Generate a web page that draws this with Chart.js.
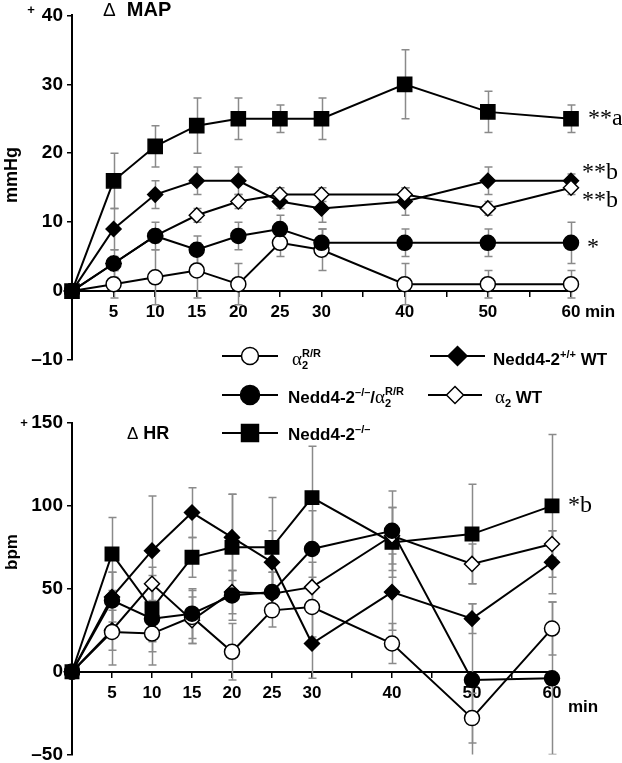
<!DOCTYPE html>
<html>
<head>
<meta charset="utf-8">
<script src="https://cdn.jsdelivr.net/npm/chart.js@4/dist/chart.umd.min.js"></script>
<style>
  html, body { margin: 0; padding: 0; background: #fff; overflow: hidden; }
  #wrap { position: relative; width: 622px; height: 763px; }
  canvas { position: absolute; left: 0; }
  #mapChart { top: 0; }
  #hrChart { top: 400px; }
</style>
</head>
<body>
<div id="wrap">
  <canvas id="mapChart" width="622" height="450"></canvas>
  <canvas id="hrChart" width="622" height="370"></canvas>
</div>
<script>
// time points (min)
const times = [0, 5, 10, 15, 20, 25, 30, 40, 50, 60];
const xTickHidden = [0, 35, 45, 55];

// delta MAP (mmHg) and error bars
const mapA2RR = [0, 1, 2, 3, 1, 7, 6, 1, 1, 1];
const mapA2RRErr = [0, 2, 4, 4, 3, 2, 3, 3, 2, 2];
const mapKoA2RR = [0, 4, 8, 6, 8, 9, 7, 7, 7, 7];
const mapKoA2RRErr = [0, 2, 2, 2, 2, 2, 2, 2, 2, 3];
const mapKo = [0, 16, 21, 24, 25, 25, 25, 30, 26, 25];
const mapKoErr = [0, 4, 3, 4, 3, 2, 3, 5, 3, 2];
const mapNeddWt = [0, 9, 14, 16, 16, 13, 12, 13, 16, 16];
const mapNeddWtErr = [0, 3, 2, 2, 2, 1, 2, 2, 2, 1];
const mapA2Wt = [0, 4, 8, 11, 13, 14, 14, 14, 12, 15];
const mapA2WtErr = [0, 1, 1, 1, 1, 1, 1, 1, 1, 1];

// delta HR (bpm) and error bars
const hrA2RR = [0, 24, 23, 33, 12, 37, 39, 17, -28, 26];
const hrA2RRErr = [0, 20, 19, 16, 17, 10, 18, 12, 15, 16];
const hrKoA2RR = [0, 43, 32, 35, 46, 48, 74, 85, -5, -4];
const hrKoA2RRErr = [0, 17, 20, 15, 15, 12, 23, 24, 46, 46];
const hrKo = [0, 71, 38, 69, 75, 75, 105, 78, 83, 100];
const hrKoErr = [0, 22, 20, 12, 32, 30, 31, 21, 30, 43];
const hrNeddWt = [0, 45, 73, 96, 81, 66, 17, 48, 32, 66];
const hrNeddWtErr = [0, 15, 33, 15, 26, 19, 21, 23, 9, 19];
const hrA2Wt = [0, 25, 53, 31, 48, 47, 51, 82, 65, 77];
const hrA2WtErr = [0, 12, 10, 14, 13, 13, 15, 17, 12, 8];

const SANS = '"Liberation Sans", Arial, sans-serif';
const SERIF = '"Liberation Serif", "Times New Roman", serif';

function pts(vals) {
  return times.map((t, i) => ({ x: t, y: vals[i] }));
}

function series(label, vals, err, style, r, fill) {
  return {
    label: label,
    data: pts(vals),
    err: err,
    borderColor: '#000',
    borderWidth: 2,
    pointStyle: style,
    pointRadius: r,
    pointHoverRadius: r,
    pointBackgroundColor: fill,
    pointBorderColor: '#000',
    pointBorderWidth: 1.5,
    tension: 0,
    fill: false,
    clip: false
  };
}

const errorBars = {
  id: 'errorBars',
  beforeDatasetsDraw(chart) {
    const { ctx, chartArea, scales: { x, y } } = chart;
    ctx.save();
    ctx.beginPath();
    ctx.rect(chartArea.left - 10, chartArea.top, chartArea.right - chartArea.left + 20, chartArea.bottom - chartArea.top);
    ctx.clip();
    ctx.strokeStyle = '#8a8a8a';
    ctx.lineWidth = 1.5;
    chart.data.datasets.forEach(ds => {
      ds.data.forEach((p, i) => {
        const e = ds.err[i];
        if (!e) return;
        const px = Math.round(x.getPixelForValue(p.x)) + 0.5;
        const top = y.getPixelForValue(p.y + e);
        const bot = y.getPixelForValue(p.y - e);
        ctx.beginPath();
        ctx.moveTo(px, top); ctx.lineTo(px, bot);
        ctx.moveTo(px - 4, top); ctx.lineTo(px + 4, top);
        ctx.moveTo(px - 4, bot); ctx.lineTo(px + 4, bot);
        ctx.stroke();
      });
    });
    ctx.restore();
  }
};

function scalesFor(yMin, yMax, yStep) {
  const tickFont = { family: SANS, size: 17, weight: 'bold' };
  return {
    x: {
      type: 'linear', min: 0, max: 60,
      position: { y: 0 },
      ticks: {
        stepSize: 5, autoSkip: false, maxRotation: 0, padding: 6, color: '#000',
        font: tickFont,
        callback: v => xTickHidden.includes(v) ? '' : String(v)
      },
      grid: { drawOnChartArea: false, tickLength: 5, color: '#000', lineWidth: 1.5 },
      border: { color: '#000', width: 2 }
    },
    y: {
      min: yMin, max: yMax,
      afterFit: s => { s.width = 72; },
      ticks: {
        stepSize: yStep, padding: 4, color: '#000',
        font: { family: SANS, size: 19, weight: 'bold' },
        callback: v => v < 0 ? '\u2013' + (-v) : String(v)
      },
      grid: { drawOnChartArea: false, tickLength: 5, color: '#000', lineWidth: 1.5 },
      border: { color: '#000', width: 2 }
    }
  };
}

function drawMarker(ctx, style, x, y, r, fill) {
  ctx.beginPath();
  if (style === 'circle') {
    ctx.arc(x, y, r, 0, Math.PI * 2);
  } else if (style === 'rect') {
    const s = r * Math.SQRT1_2;
    ctx.rect(x - s, y - s, 2 * s, 2 * s);
  } else {
    ctx.moveTo(x, y - r); ctx.lineTo(x + r, y); ctx.lineTo(x, y + r); ctx.lineTo(x - r, y);
    ctx.closePath();
  }
  ctx.fillStyle = fill;
  ctx.fill();
  ctx.lineWidth = 1.5;
  ctx.strokeStyle = '#000';
  ctx.stroke();
}

// text made of runs: {t, f, dy, stay}
function drawRuns(ctx, x, y, parts) {
  ctx.fillStyle = '#000';
  ctx.textAlign = 'left';
  ctx.textBaseline = 'alphabetic';
  parts.forEach(p => {
    ctx.font = p.f;
    ctx.fillText(p.t, x, y + (p.dy || 0));
    if (!p.stay) x += ctx.measureText(p.t).width;
  });
}

const B17 = 'bold 17px ' + SANS;
const SUP = 'bold 11px ' + SANS;
const ALPHA = '19px ' + SERIF;

const legendItems = [
  { x0: 222, x1: 278, y: 356, style: 'circle', r: 8.5, fill: '#fff', tx: 292, ty: 365,
    parts: [{ t: '\u03b1', f: ALPHA }, { t: '2', f: SUP, dy: 4, stay: true }, { t: 'R/R', f: SUP, dy: -8 }] },
  { x0: 430, x1: 485, y: 356, style: 'rectRot', r: 9.5, fill: '#000', tx: 493, ty: 365,
    parts: [{ t: 'Nedd4-2', f: B17 }, { t: '+/+', f: SUP, dy: -7 }, { t: ' WT', f: B17 }] },
  { x0: 222, x1: 278, y: 395, style: 'circle', r: 9.5, fill: '#000', tx: 288, ty: 403,
    parts: [{ t: 'Nedd4-2', f: B17 }, { t: '\u2013/\u2013', f: SUP, dy: -7 }, { t: '/', f: B17 },
            { t: '\u03b1', f: ALPHA }, { t: '2', f: SUP, dy: 4, stay: true }, { t: 'R/R', f: SUP, dy: -8 }] },
  { x0: 428, x1: 482, y: 395, style: 'rectRot', r: 8.5, fill: '#fff', tx: 495, ty: 403,
    parts: [{ t: '\u03b1', f: ALPHA }, { t: '2', f: SUP, dy: 4 }, { t: ' WT', f: B17 }] },
  { x0: 222, x1: 278, y: 433, style: 'rect', r: 12, fill: '#000', tx: 288, ty: 440,
    parts: [{ t: 'Nedd4-2', f: B17 }, { t: '\u2013/\u2013', f: SUP, dy: -7 }] }
];

const mapDecor = {
  id: 'mapDecor',
  afterDraw(chart) {
    const ctx = chart.ctx;
    ctx.save();
    ctx.fillStyle = '#000';
    // small plus of +40
    ctx.font = 'bold 13px ' + SANS;
    ctx.textAlign = 'center';
    ctx.fillText('+', 31, 14);
    // axis title
    ctx.save();
    ctx.translate(17, 175);
    ctx.rotate(-Math.PI / 2);
    ctx.font = 'bold 18px ' + SANS;
    ctx.textAlign = 'center';
    ctx.fillText('mmHg', 0, 0);
    ctx.restore();
    // panel title
    drawRuns(ctx, 103, 16, [{ t: '\u0394', f: '19px ' + SANS }, { t: '  MAP', f: 'bold 20px ' + SANS }]);
    // min
    drawRuns(ctx, 585, 317, [{ t: 'min', f: B17 }]);
    // significance marks
    const sig = 'normal 24px ' + SERIF;
    drawRuns(ctx, 588, 125, [{ t: '**a', f: sig }]);
    drawRuns(ctx, 582, 179, [{ t: '**b', f: sig }]);
    drawRuns(ctx, 582, 207, [{ t: '**b', f: sig }]);
    drawRuns(ctx, 587, 254, [{ t: '*', f: sig }]);
    // legend
    legendItems.forEach(it => {
      ctx.beginPath();
      ctx.moveTo(it.x0, it.y); ctx.lineTo(it.x1, it.y);
      ctx.lineWidth = 2; ctx.strokeStyle = '#000';
      ctx.stroke();
      drawMarker(ctx, it.style, (it.x0 + it.x1) / 2, it.y, it.r, it.fill);
      drawRuns(ctx, it.tx, it.ty, it.parts);
    });
    ctx.restore();
  }
};

const hrDecor = {
  id: 'hrDecor',
  afterDraw(chart) {
    const ctx = chart.ctx;
    ctx.save();
    ctx.fillStyle = '#000';
    ctx.font = 'bold 13px ' + SANS;
    ctx.textAlign = 'center';
    ctx.fillText('+', 24, 27);
    ctx.save();
    ctx.translate(17, 152);
    ctx.rotate(-Math.PI / 2);
    ctx.font = 'bold 17px ' + SANS;
    ctx.textAlign = 'center';
    ctx.fillText('bpm', 0, 0);
    ctx.restore();
    drawRuns(ctx, 127, 39, [{ t: '\u0394', f: '17px ' + SANS }, { t: ' HR', f: 'bold 18px ' + SANS }]);
    drawRuns(ctx, 568, 312, [{ t: 'min', f: B17 }]);
    drawRuns(ctx, 568, 112, [{ t: '*b', f: 'normal 24px ' + SERIF }]);
    ctx.restore();
  }
};

function baseOptions(yMin, yMax, yStep, pad) {
  return {
    responsive: false,
    animation: false,
    events: [],
    layout: { padding: pad },
    plugins: { legend: { display: false }, tooltip: { enabled: false } },
    scales: scalesFor(yMin, yMax, yStep)
  };
}

new Chart(document.getElementById('mapChart'), {
  type: 'line',
  data: {
    datasets: [
      series('Nedd4-2\u2013/\u2013/\u03b12R/R', mapKoA2RR, mapKoA2RRErr, 'circle', 7.5, '#000'),
      series('\u03b12R/R', mapA2RR, mapA2RRErr, 'circle', 7.5, '#fff'),
      series('\u03b12 WT', mapA2Wt, mapA2WtErr, 'rectRot', 7.5, '#fff'),
      series('Nedd4-2+/+ WT', mapNeddWt, mapNeddWtErr, 'rectRot', 7.5, '#000'),
      series('Nedd4-2\u2013/\u2013', mapKo, mapKoErr, 'rect', 10, '#000')
    ]
  },
  options: baseOptions(-10, 40, 10, { left: 0, right: 51, top: 10, bottom: 90 }),
  plugins: [errorBars, mapDecor]
});

new Chart(document.getElementById('hrChart'), {
  type: 'line',
  data: {
    datasets: [
      series('Nedd4-2\u2013/\u2013/\u03b12R/R', hrKoA2RR, hrKoA2RRErr, 'circle', 7.5, '#000'),
      series('\u03b12R/R', hrA2RR, hrA2RRErr, 'circle', 7.5, '#fff'),
      series('\u03b12 WT', hrA2Wt, hrA2WtErr, 'rectRot', 7.5, '#fff'),
      series('Nedd4-2+/+ WT', hrNeddWt, hrNeddWtErr, 'rectRot', 7.5, '#000'),
      series('Nedd4-2\u2013/\u2013', hrKo, hrKoErr, 'rect', 9.5, '#000')
    ]
  },
  options: baseOptions(-50, 150, 50, { left: 0, right: 70, top: 23, bottom: 13 }),
  plugins: [errorBars, hrDecor]
});
</script>
</body>
</html>
